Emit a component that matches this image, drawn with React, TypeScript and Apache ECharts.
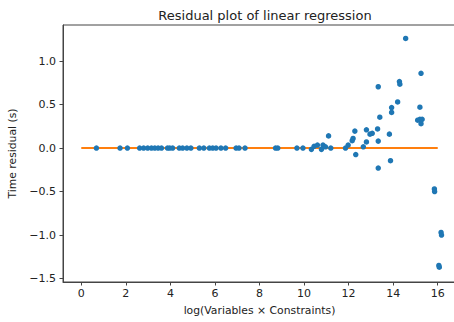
import React, { useEffect, useRef } from "react";
import * as echarts from "echarts";

const xValues = [
  0.68, 1.74, 2.07, 2.62, 2.8, 2.98, 3.15, 3.3, 3.45, 3.6, 3.87, 3.97, 4.1, 4.4, 4.55, 4.74, 4.92,
  5.3, 5.5, 5.75, 5.9, 6.05, 6.27, 6.48, 6.95, 7.08, 7.35, 8.72, 8.82, 9.68, 9.95,
  10.33, 10.45, 10.6, 10.78, 10.85, 10.96, 11.1, 11.2, 11.86, 11.98, 12.16, 12.2, 12.28, 12.32,
  12.66, 12.8, 12.8, 12.96, 13.06, 13.3, 13.33, 13.33, 13.33, 13.4, 13.83, 13.88, 13.93, 13.93,
  14.2, 14.28, 14.3, 14.56, 15.1, 15.2, 15.3, 15.25, 15.2, 15.25, 15.85, 15.86, 16.15, 16.17,
  16.05, 16.07,
];
const yValues = [
  0, 0, 0, 0, 0, 0, 0, 0, 0, 0, 0, 0, 0, 0, 0, 0, 0,
  0, 0, 0, 0, 0, 0, 0, 0, 0, 0, 0, 0, 0, 0,
  -0.015, 0.02, 0.035, -0.015, 0.035, 0.015, 0.14, 0, 0, 0.035, 0.085, 0.11, 0.195, -0.075,
  0.015, 0.07, 0.21, 0.16, 0.17, 0.22, 0.08, -0.23, 0.705, 0.355, 0.16, -0.145, 0.41, 0.465,
  0.53, 0.765, 0.735, 1.26, 0.32, 0.33, 0.33, 0.28, 0.47, 0.86, -0.47, -0.5, -0.97, -1.0,
  -1.35, -1.37,
];
const fitX = [0, 16];
const fitY = [0, 0];
const xTicks = [0, 2, 4, 6, 8, 10, 12, 14, 16];
const yTicks = [-1.5, -1.0, -0.5, 0.0, 0.5, 1.0];

const FONT = "DejaVu Sans";

export default function App() {
  const ref = useRef<HTMLDivElement>(null);
  useEffect(() => {
    document.body.style.margin = "0";
    const chart = echarts.init(ref.current!, null, { renderer: "svg" });
    const fmt = (v: number) => (v < 0 ? "\u2212" : "") + Math.abs(v).toFixed(1);
    chart.setOption({
      animation: false,
      backgroundColor: "#ffffff",
      title: {
        text: "Residual plot of linear regression",
        left: 260,
        top: 4,
        textAlign: "center",
        textStyle: { fontFamily: FONT, fontSize: 13, fontWeight: "normal", color: "#222" },
      },
      grid: {
        left: 63,
        top: 25,
        right: -2,
        bottom: 40,
        show: true,
        borderColor: "#444",
        borderWidth: 1,
        outerBoundsMode: "none",
      },
      xAxis: {
        type: "value",
        min: -0.82,
        max: 16.82,
        splitLine: { show: false },
        axisLine: { show: true, onZero: false, lineStyle: { color: "#444", width: 1 } },
        axisTick: { show: true, length: 3.5, customValues: xTicks, lineStyle: { color: "#444" } },
        axisLabel: {
          customValues: xTicks,
          margin: 6,
          fontFamily: FONT,
          fontSize: 11,
          color: "#222",
          formatter: (v: number) => String(v),
        },
        name: "log(Variables \u00d7 Constraints)",
        nameLocation: "middle",
        nameGap: 23,
        nameTextStyle: { fontFamily: FONT, fontSize: 10.8, color: "#222" },
      },
      yAxis: {
        type: "value",
        min: -1.54,
        max: 1.415,
        splitLine: { show: false },
        axisLine: { show: true, onZero: false, lineStyle: { color: "#444", width: 1 } },
        axisTick: { show: true, length: 3.5, customValues: yTicks, lineStyle: { color: "#444" } },
        axisLabel: {
          customValues: yTicks,
          margin: 7,
          fontFamily: FONT,
          fontSize: 11,
          color: "#222",
          formatter: fmt,
        },
        name: "Time residual (s)",
        nameLocation: "middle",
        nameRotate: 90,
        nameGap: 44,
        nameTextStyle: { fontFamily: FONT, fontSize: 10.8, color: "#222" },
      },
      series: [
        {
          type: "line",
          data: fitX.map((x, i) => [x, fitY[i]]),
          showSymbol: false,
          symbol: "none",
          lineStyle: { color: "#ff7f0e", width: 2 },
          z: 1,
        },
        {
          type: "scatter",
          data: xValues.map((x, i) => [x, yValues[i]]),
          symbolSize: 5.5,
          itemStyle: { color: "#1f77b4", opacity: 1 },
          z: 2,
        },
      ],
    });
    return () => chart.dispose();
  }, []);
  return <div ref={ref} style={{ width: 454, height: 322 }} />;
}
